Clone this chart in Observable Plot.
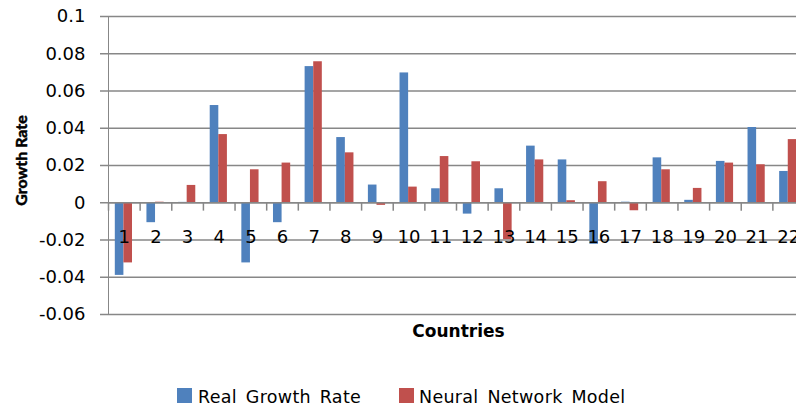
<!DOCTYPE html>
<html>
<head>
<meta charset="utf-8">
<script src="https://cdn.jsdelivr.net/npm/d3@7"></script>
<script src="https://cdn.jsdelivr.net/npm/@observablehq/plot@0.6"></script>
<style>
  html, body { margin: 0; padding: 0; background: #fff; }
  #chart { position: relative; width: 796px; height: 409px; overflow: hidden; background: #fff; }
  #chart svg { max-width: none !important; }
  #chart svg text { fill: #000; }
  #chart svg g[aria-label^="y-axis"] { stroke-width: 1.5; }
  .lg-key { position: absolute; width: 15px; height: 15px; }
  .lg-text { position: absolute; font-family: 'DejaVu Sans', sans-serif; font-size: 17.5px; line-height: 17px; color: #000; white-space: nowrap; word-spacing: 3px; letter-spacing: 0.3px; }
</style>
</head>
<body>
<div id="chart"></div>
<script>
// ---- data ----
const countries = ["1","2","3","4","5","6","7","8","9","10","11","12","13","14","15","16","17","18","19","20","21","22"];
const realGrowth = [-0.039, -0.0107, 0.0002, 0.0522, -0.0323, -0.0107, 0.0731, 0.035, 0.0095, 0.0697, 0.0075,
                    -0.0061, 0.0075, 0.0304, 0.023, -0.0223, 0.0003, 0.0241, 0.0013, 0.0222, 0.0404, 0.0168];
const nnModel = [-0.0323, 0.0003, 0.0093, 0.0366, 0.0177, 0.0213, 0.0757, 0.0268, -0.0014, 0.0084, 0.0248,
                 0.022, -0.0198, 0.023, 0.0011, 0.0113, -0.0043, 0.0177, 0.0077, 0.0213, 0.0204, 0.0339];
const yTicks = [-0.06, -0.04, -0.02, 0, 0.02, 0.04, 0.06, 0.08, 0.1];
const seriesNames = ["Real Growth Rate", "Neural Network Model"];
const seriesColors = ["#4F81BD", "#C0504D"];

const data = countries.map((c, i) => ({country: c, real: realGrowth[i], nn: nnModel[i]}));

const W = 806, ML = 108, MR = 2;
const band = (W - ML - MR) / countries.length;
const gray = "#878787";
const fmt = d => String(Math.round(d * 100) / 100);

const plot = Plot.plot({
  width: W,
  height: 380,
  marginLeft: ML,
  marginRight: MR,
  marginTop: 16,
  marginBottom: 66,
  style: {fontFamily: "'DejaVu Sans', sans-serif", fontSize: "18px", color: gray, background: "transparent", overflow: "visible", maxWidth: "none"},
  x: {domain: countries, padding: 0, round: false, axis: null},
  y: {domain: [-0.06, 0.1], ticks: yTicks, tickSize: 8, tickPadding: 15, tickFormat: fmt, label: null, line: true},
  marks: [
    Plot.ruleY(yTicks, {stroke: gray, strokeWidth: 1.5}),
    Plot.barY(data, {x: "country", y: "real", fill: seriesColors[0], insetLeft: 6.8, insetRight: band - 15.4}),
    Plot.barY(data, {x: "country", y: "nn", fill: seriesColors[1], insetLeft: 15.4, insetRight: band - 24.0}),
    Plot.ruleY([0], {stroke: gray, strokeWidth: 1.5}),
    Plot.ruleX(countries, {x: d => d, y1: 0, y2: -0.0045, dx: -band / 2, stroke: gray, strokeWidth: 1.5}),
    Plot.text(countries, {x: d => d, y: 0, dy: 34.5, text: d => d, fill: "#000", fontSize: 18}),
    Plot.text(["Countries"], {frameAnchor: "bottom", dy: 22.7, dx: 2, text: d => d, fill: "#000", fontSize: 17, fontWeight: "bold"}),
    Plot.text(["Growth Rate"], {frameAnchor: "left", textAnchor: "middle", rotate: -90, dx: -87, dy: -5, text: d => d, fill: "#000",
      stroke: "#000", strokeWidth: 0.5,
      fontSize: 16, fontWeight: "bold", fontFamily: "Lato, 'DejaVu Sans', sans-serif"})
  ]
});

const chart = document.getElementById("chart");
chart.appendChild(plot);

// legend (below the SVG plot area)
const legendPos = [{key: 177, text: 198}, {key: 399, text: 419}];
seriesNames.forEach((name, i) => {
  const k = document.createElement("div");
  k.className = "lg-key";
  k.style.left = legendPos[i].key + "px";
  k.style.top = "388px";
  k.style.background = seriesColors[i];
  chart.appendChild(k);
  const t = document.createElement("div");
  t.className = "lg-text";
  t.style.left = legendPos[i].text + "px";
  t.style.top = "389px";
  t.textContent = name;
  chart.appendChild(t);
});
</script>
</body>
</html>
